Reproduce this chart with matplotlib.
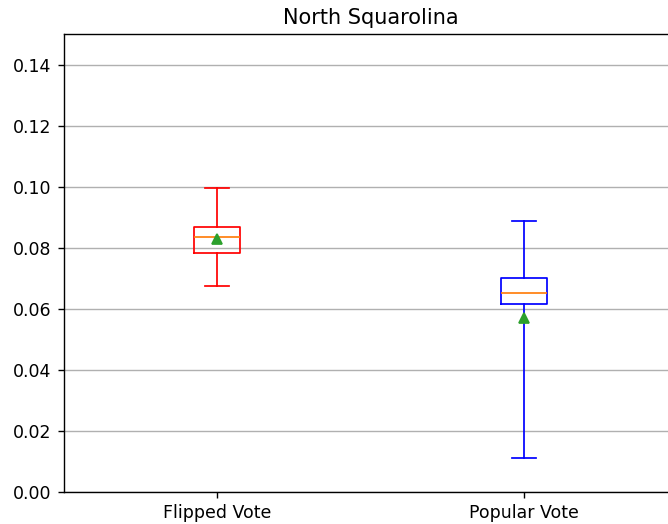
import matplotlib
matplotlib.use('Agg')
import matplotlib.pyplot as plt

# values
labels = ['Flipped Vote', 'Popular Vote']
box_colors = ['red', 'blue']
whislo = [0.0675, 0.0112]
q1 = [0.0782, 0.0615]
med = [0.0835, 0.0652]
q3 = [0.0868, 0.0701]
whishi = [0.0995, 0.0887]
means = [0.0828, 0.0569]

# 668x524 px at dpi 125
fig = plt.figure(figsize=(668 / 125, 524 / 125), dpi=125)
ax = fig.add_axes([63.5 / 668, 32 / 524, 614 / 668, 458 / 524])

for i in range(len(labels)):
    stats = [{'label': labels[i], 'whislo': whislo[i], 'q1': q1[i], 'med': med[i],
              'q3': q3[i], 'whishi': whishi[i], 'mean': means[i], 'fliers': []}]
    c = box_colors[i]
    ax.bxp(stats, positions=[i + 1], widths=0.15, showmeans=True, showfliers=False,
           boxprops=dict(color=c), whiskerprops=dict(color=c), capprops=dict(color=c))

ax.set_xlim(0.5, 2.5)
ax.set_ylim(0, 0.15)
ax.set_xticks([1, 2])
ax.set_xticklabels(labels)
ax.set_yticks([0, 0.02, 0.04, 0.06, 0.08, 0.10, 0.12, 0.14])
ax.yaxis.grid(True, color='#b0b0b0')
ax.set_axisbelow(True)
ax.set_title('North Squarolina')

fig.savefig('out.png', dpi=125)
